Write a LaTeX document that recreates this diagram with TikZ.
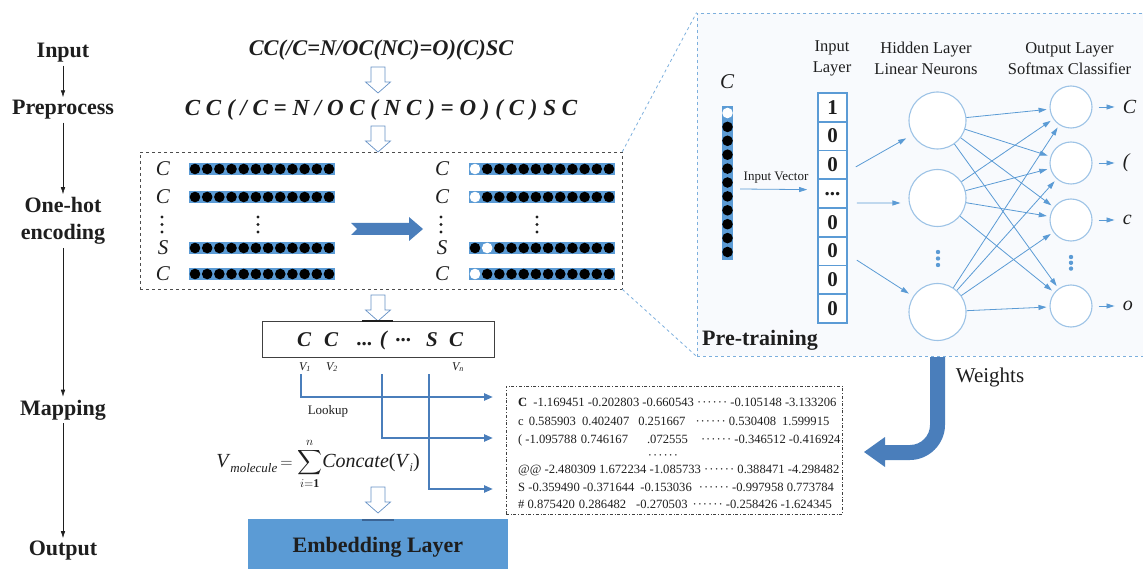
\documentclass[tikz,border=0pt]{standalone}
\usepackage{fix-cm}
\usepackage{exscale}
\usepackage{fontspec}
\setmainfont{Liberation Serif}
\usetikzlibrary{arrows.meta,calc}

\definecolor{barblue}{HTML}{5B9BD5}
\definecolor{deepblue}{HTML}{4A7EBB}
\definecolor{ringblue}{HTML}{9DC3E6}
\definecolor{netblue}{HTML}{5B9BD5}
\definecolor{panelbg}{HTML}{F8FAFD}
\definecolor{ink}{HTML}{1E1E1E}

\newcommand\sz[2]{\fontsize{#1}{#2}\selectfont}
\newcommand\dd{·\kern1pt·\kern1pt·\kern1pt·\kern1pt·\kern1pt·}

% one-hot bar: left x, centre y, index of the white dot (0 = none)
\newcommand\hotbar[3]{%
  \fill[barblue] (#1,#2-6) rectangle (#1+146,#2+6);
  \foreach \k in {1,...,12}{%
    \pgfmathsetmacro\cx{#1+6+(\k-1)*12.18}%
    \ifnum\k=#3\relax
      \fill[white] (\cx,#2) circle (5.3pt);
    \else
      \fill[black] (\cx,#2) circle (5.3pt);
    \fi}}

% hollow block arrow pointing down: centre x, top y
\newcommand\hollowdown[2]{%
  \draw[hollow] (#1-7,#2) -- (#1+7,#2) -- (#1+7,#2+15) -- (#1+12.5,#2+15)
    -- (#1,#2+26) -- (#1-12.5,#2+15) -- (#1-7,#2+15) -- cycle;}

% three small dots in a column: x, top y, gap, radius, colour
\newcommand\vdotcol[5]{%
  \foreach \j in {0,1,2}{\fill[#5] (#1,#2+\j*#3) circle (#4pt);}}

\begin{document}
\begin{tikzpicture}[x=1pt,y=-1pt,
  steplabel/.style={font=\sz{22}{27}\bfseries, text=ink, inner sep=3pt, align=center},
  flow/.style={-{Latex[length=7pt,width=4.5pt]}, line width=0.6pt, ink},
  smiles/.style={font=\sz{22.4}{26}\bfseries\itshape, text=ink, inner sep=0pt},
  hollow/.style={draw=deepblue!85, fill=white, line width=0.7pt},
  letter/.style={font=\sz{21}{24}\itshape, text=ink, inner sep=0pt},
  seqtxt/.style={font=\sz{21}{24}\bfseries\itshape, text=ink, inner sep=0pt},
  vlab/.style={font=\sz{12}{14}\itshape, text=ink, inner sep=0pt},
  lookup/.style={line width=2.6pt, deepblue, -{Triangle[length=9pt,width=7pt]}},
  tabrow/.style={font=\sz{12.6}{15}, text=ink, anchor=west, inner sep=0pt},
  nettxt/.style={font=\sz{16.5}{21}, text=ink, align=center, inner sep=0pt},
  cell/.style={draw=netblue, line width=1.6pt, fill=white, minimum width=29pt,
    minimum height=28.75pt, inner sep=0pt, font=\sz{21}{24}\bfseries, text=ink},
  hidden/.style={circle, draw=ringblue, line width=1.1pt, fill=white,
    minimum size=57pt, inner sep=0pt},
  outn/.style={circle, draw=ringblue, line width=1.1pt, fill=white,
    minimum size=42pt, inner sep=0pt},
  netarrow/.style={netblue, line width=0.8pt, -{Triangle[length=8pt,width=5pt]}},
  outlab/.style={font=\sz{20}{24}\itshape, text=ink, inner sep=0pt}]

\useasboundingbox (0,0) rectangle (1143,569);

% ---------- stage labels on the left ----------
\node[steplabel] (inp) at (63,53) {Input};
\node[steplabel] (pre) at (63,110) {Preprocess};
\node[steplabel] (one) at (63,221) {One-hot\\encoding};
\node[steplabel] (map) at (63,410) {Mapping};
\node[steplabel] (out) at (63,551) {Output};
\draw[flow] (inp) -- (pre);
\draw[flow] (pre) -- (one);
\draw[flow] (one) -- (map);
\draw[flow] (map) -- (out);

% ---------- SMILES string and its tokens ----------
\node[smiles] (sm1) at (381,50) {CC(/C=N/OC(NC)=O)(C)SC};
\node[smiles, font=\sz{23}{26}\bfseries\itshape] (sm2) at (381,110)
  {C C ( / C = N / O C ( N C ) = O ) ( C ) S C};
\hollowdown{378}{67}
\hollowdown{378}{126}

% ---------- one-hot encoding ----------
\node[draw=black!70, dashed, line width=0.6pt, minimum width=482pt,
  minimum height=137pt, inner sep=0pt] (ohbox) at (381,220.5) {};

\foreach \y/\t [count=\r] in {169/C,197/C,248/S,274/C}{
  \node[letter] (ll\r) at (163,\y) {\t};
  \node[letter] (rl\r) at (442,\y) {\t};
  \hotbar{189}{\y}{0}
}
\hotbar{469}{169}{1}
\hotbar{469}{197}{1}
\hotbar{469}{248}{2}
\hotbar{469}{274}{1}
\vdotcol{162}{217}{7.5}{1.7}{ink}
\vdotcol{258}{217}{7.5}{1.7}{ink}
\vdotcol{441}{217}{7.5}{1.7}{ink}
\vdotcol{537}{217}{7.5}{1.7}{ink}
\fill[deepblue] (351,223) -- (409,223) -- (409,217) -- (423,229) -- (409,241)
  -- (409,235) -- (351,235) -- (357,229) -- cycle;

\hollowdown{378}{295}

% ---------- token sequence ----------
\node[draw=black!75, line width=0.6pt, minimum width=232pt, minimum height=36pt,
  inner sep=0pt] (seq) at (378.5,339.5) {};
\draw[ink, line width=2pt] (362,321) -- (393,321);
\node[seqtxt] (s1) at (304,340) {C};
\node[seqtxt] (s2) at (331,340) {C};
\node[seqtxt] (s3) at (372,340) {... (};
\node[seqtxt] (s4) at (404,340) {...};
\node[seqtxt] (s5) at (432,340) {S};
\node[seqtxt] (s6) at (456,340) {C};
\node[vlab] (v1) at (305,367) {V\textsubscript{1}};
\node[vlab] (v2) at (332,367) {V\textsubscript{2}};
\node[vlab] (vn) at (458,367) {V\textsubscript{n}};

% ---------- lookup into the embedding table ----------
\node[draw=black!75, dash dot, line width=0.6pt, minimum width=336pt,
  minimum height=128pt, inner sep=0pt] (tab) at (674,450) {};
\coordinate (k1) at (301,374);
\coordinate (k2) at (382,374);
\coordinate (k3) at (429,374);
\coordinate (t1) at (493,397);
\coordinate (t2) at (493,438);
\coordinate (t3) at (493,489);
\draw[lookup] (k1) |- (t1);
\draw[lookup] (k2) |- (t2);
\draw[lookup] (k3) |- (t3);
\node[font=\sz{13}{15}, text=ink, inner sep=0pt] (lk) at (328,411) {Lookup};

\node[tabrow] (r1) at (518,402) {\textbf{C}\hspace{6pt}-1.169451 -0.202803 -0.660543 \dd\ -0.105148 -3.133206};
\node[tabrow] (r2) at (518,421) {c\hspace{5pt}0.585903\hspace{6pt}0.402407\hspace{9pt}0.251667\hspace{10pt}\dd\ 0.530408\hspace{6pt}1.599915};
\node[tabrow] (r3) at (518,440) {(\hspace{3pt}-1.095788\hspace{4pt}0.746167\hspace{19pt}.072555\hspace{13pt}\dd\ -0.346512 -0.416924};
\node[font=\sz{12.6}{15}, text=ink, inner sep=0pt] (rm) at (663,457) {\dd};
\node[tabrow] (r4) at (518,470) {@@ -2.480309 1.672234 -1.085733 \dd\ 0.388471 -4.298482};
\node[tabrow] (r5) at (518,487) {S -0.359490 -0.371644\hspace{6pt}-0.153036\hspace{7pt}\dd\ -0.997958 0.773784};
\node[tabrow] (r6) at (518,504) {\# 0.875420\hspace{4pt}0.286482\hspace{10pt}-0.270503\hspace{5pt}\dd\ -0.258426 -1.624345};

% ---------- molecule vector ----------
\node[font=\sz{20}{24}, text=ink, inner sep=0pt] (form) at (318,464)
  {\textit{V}\raisebox{-5pt}{\sz{13}{15}\textit{molecule}}\hspace{3pt}{\sz{17}{20}$=\displaystyle\sum_{i=\mathbf{1}}^{n}$}\textit{Concate}(\textit{V}\raisebox{-4pt}{\sz{12}{14}\textit{i}})};
\hollowdown{378}{487}

\node[fill=barblue, minimum width=260pt, minimum height=62pt, inner sep=0pt] (emb) at (378,550) {};
\draw[deepblue!80!black, line width=2pt] (362,520) -- (394,520);
\node[font=\sz{22}{26}\bfseries, text=ink, inner sep=0pt] (embt) at (378,547) {Embedding Layer};

% ---------- pre-training network ----------
\node[draw=netblue!80, dashed, line width=0.8pt, fill=panelbg, minimum width=453pt,
  minimum height=343pt, inner sep=0pt] (panel) at (923.5,184.5) {};
\draw[netblue!80, dashed, line width=0.8pt] (ohbox.north east) -- (panel.north west);
\draw[netblue!80, dashed, line width=0.8pt] (ohbox.south east) -- (panel.south west);

\node[outlab, font=\sz{21}{24}\itshape] (cin) at (727,82) {C};
\node[fill=barblue, minimum width=11pt, minimum height=154pt, inner sep=0pt] (vec) at (727.5,183) {};
\foreach \i in {0,...,10}{
  \pgfmathsetmacro\cy{113+\i*13.9}
  \ifnum\i=0\relax
    \fill[white] (727.5,\cy) circle (5.3pt);
  \else
    \fill[black] (727.5,\cy) circle (5.3pt);
  \fi
}
\node[font=\sz{13}{15}, text=ink, inner sep=0pt] (ivl) at (776,178) {Input Vector};

\node[cell] (c1) at (832.5,107.4) {1};
\node[cell] (c2) at (832.5,136.1) {0};
\node[cell] (c3) at (832.5,164.9) {0};
\node[cell] (c4) at (832.5,193.6) {...};
\node[cell] (c5) at (832.5,222.4) {0};
\node[cell] (c6) at (832.5,251.1) {0};
\node[cell] (c7) at (832.5,279.9) {0};
\node[cell] (c8) at (832.5,308.6) {0};
\draw[netarrow] ([shift={(7,6)}]vec.east) -- ([shift={(-10,-4)}]c4.west);

\node[nettxt] (hin) at (832,58.5) {Input\\Layer};
\node[nettxt] (hhid) at (926,58.5) {Hidden Layer\\Linear Neurons};
\node[nettxt] (hout) at (1069.5,58.5) {Output Layer\\Softmax Classifier};

\node[hidden] (h1) at (937.5,120.5) {};
\node[hidden] (h2) at (937.5,198) {};
\node[hidden] (h3) at (937.5,312) {};
\vdotcol{938}{252}{6.5}{2.2}{netblue}

\node[outn] (o1) at (1071,107) {};
\node[outn] (o2) at (1071,163) {};
\node[outn] (o3) at (1071,220) {};
\node[outn] (o4) at (1071,306) {};
\vdotcol{1071}{257}{5.8}{2.2}{netblue}

\draw[netarrow, shorten >=7pt] ([shift={(8,2)}]c3.east) -- (h1);
\draw[netarrow] ([shift={(9,9.5)}]c4.east) -- ([shift={(-8,5)}]h2.west);
\draw[netarrow, shorten >=5pt] ([shift={(9,9)}]c6.east) -- (h3);

\foreach \h in {1,2,3}{
  \foreach \o in {1,2,3,4}{
    \draw[netarrow, shorten >=3pt] (h\h) -- (o\o);
  }
}

\foreach \o/\t in {1/C,2/(,3/c,4/o}{
  \draw[netarrow] ([xshift=6pt]o\o.east) -- ([xshift=22pt]o\o.east);
  \node[outlab, anchor=west] (ol\o) at ([xshift=30pt]o\o.east) {\t};
}

\node[font=\sz{22}{26}\bfseries, text=ink, anchor=west, inner sep=0pt] (pt) at (702,340) {Pre-training};

% ---------- learned weights fed back to the table ----------
\fill[deepblue] (930,357) -- (945,357) -- (945,425)
  .. controls (945,444) and (929,460) .. (910,460) -- (885,460) -- (885,467)
  -- (864,452) -- (885,437) -- (885,445) -- (910,445)
  .. controls (921,445) and (930,436) .. (930,425) -- cycle;
\node[font=\sz{21}{24}, text=ink, inner sep=0pt] (wt) at (990,377) {Weights};

\end{tikzpicture}
\end{document}
